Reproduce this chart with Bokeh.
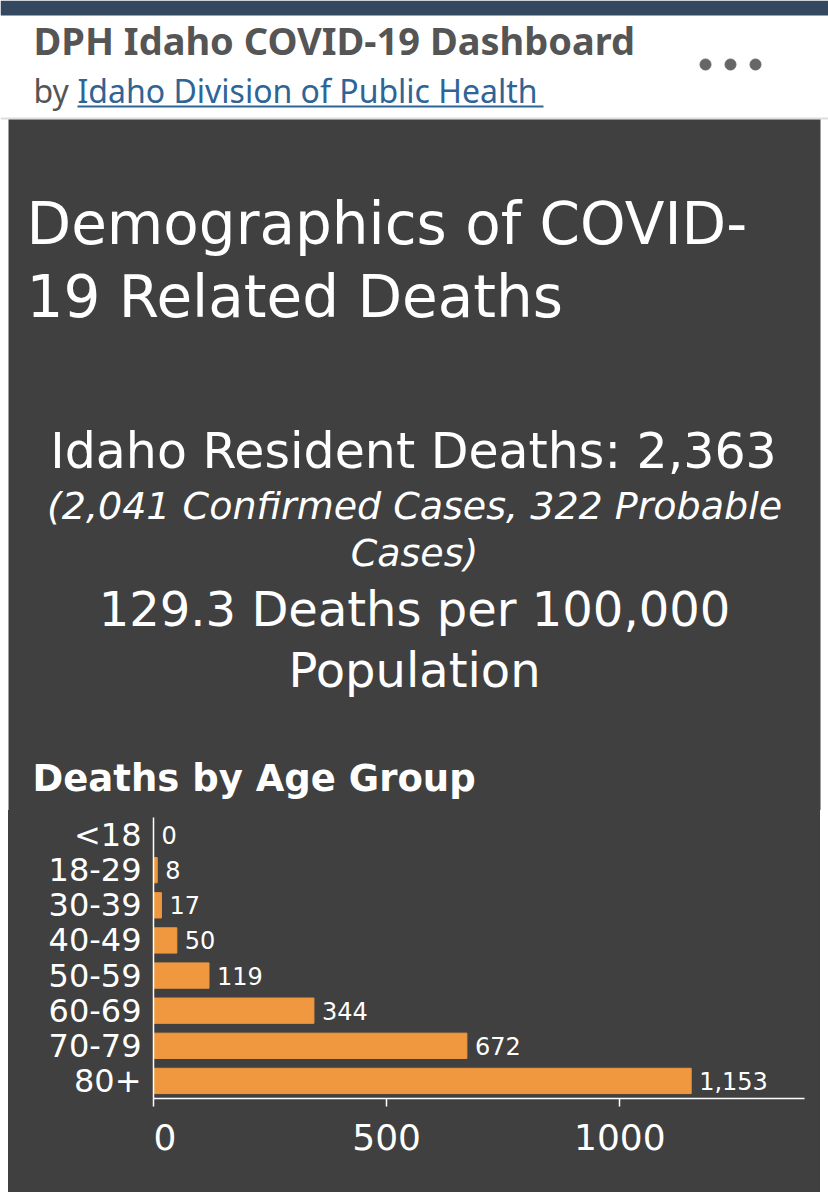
from bokeh.core.properties import value
from bokeh.embed import file_html
from bokeh.models import ColumnDataSource, FactorRange, Range1d
from bokeh.plotting import figure
from bokeh.resources import INLINE

age_groups = ["<18", "18-29", "30-39", "40-49", "50-59", "60-69", "70-79", "80+"]
deaths = [0, 8, 17, 50, 119, 344, 672, 1153]
x_ticks = [0, 500, 1000]

header_title = "DPH Idaho COVID-19 Dashboard"
header_by = "by"
header_link = "Idaho Division of Public Health"
title_lines = ["Demographics of COVID-", "19 Related Deaths"]
resident_line = "Idaho Resident Deaths: 2,363"
case_lines = ["(2,041 Confirmed Cases, 322 Probable", "Cases)"]
rate_lines = ["129.3 Deaths per 100,000", "Population"]
chart_title = "Deaths by Age Group"

PANEL = "#404040"
BAR = "#F0983F"
FONT = "DejaVu Sans"
HEADER_FONT = "Noto Sans"

# top part of the page, ranges are simply page pixels
top = figure(width=828, height=810, x_range=Range1d(0, 828), y_range=Range1d(810, 0),
             x_axis_location=None, y_axis_location=None, toolbar_location=None,
             output_backend="svg", min_border=0, outline_line_color=None,
             background_fill_color="white", border_fill_color="white")
top.grid.visible = False
top.quad(left=0, right=828, top=0, bottom=15, fill_color="#34495F", line_color=None)
top.quad(left=0, right=828, top=117, bottom=119, fill_color="#DDDDDD", line_color=None)
top.quad(left=8, right=820, top=119, bottom=812, fill_color=PANEL, line_color=None)


def put(p, x, y, txt, size, color="white", align="left", style="normal", font=FONT):
    p.text(x=[x], y=[y], text=[txt], text_font=value(font), text_font_size=size,
           text_color=color, text_align=align, text_font_style=style, text_baseline="alphabetic")


put(top, 33, 39, header_title, "38px", "#555555", style="bold", font=HEADER_FONT)
put(top, 33, 90, header_by, "32px", "#555555", font=HEADER_FONT)
put(top, 77, 90, header_link, "32px", "#2F6496", font=HEADER_FONT)
top.segment(x0=77, x1=543, y0=106, y1=106, line_color="#2F6496", line_width=2)
top.scatter(x=[705, 730, 755], y=[64, 64, 64], size=11, color="#666666")

put(top, 26, 223, title_lines[0], "58px")
put(top, 26, 296, title_lines[1], "58px")
put(top, 413, 451, resident_line, "49px", align="center")
put(top, 414, 505, case_lines[0], "38px", align="center", style="italic")
put(top, 414, 552, case_lines[1], "38px", align="center", style="italic")
put(top, 414, 608, rate_lines[0], "48px", align="center")
put(top, 414, 669, rate_lines[1], "48px", align="center")
put(top, 32, 778, chart_title, "37px", style="bold")

source = ColumnDataSource(data=dict(age=age_groups, deaths=deaths,
                                    label=[f"{d:,}" for d in deaths]))

# css background as well, the svg fills leave pale seams between frame and border
p = figure(width=812, height=382, y_range=FactorRange(factors=age_groups[::-1]),
           x_range=Range1d(0, 1396), toolbar_location=None, output_backend="svg",
           min_border_left=145, min_border_right=16, min_border_top=7, min_border_bottom=94,
           background_fill_color=PANEL, border_fill_color=PANEL, margin=(0, 0, 0, 8),
           styles={"background-color": PANEL})
p.outline_line_color = None
p.grid.visible = False
p.hbar(y="age", right="deaths", left=0, height=0.72, source=source,
       fill_color=BAR, line_color=BAR, line_width=1)
p.text(x="deaths", y="age", text="label", source=source, x_offset=8, y_offset=0,
       text_font=value(FONT), text_font_size="24px", text_color="white", text_baseline="middle")

p.xaxis.ticker = x_ticks
# the zero label sits to the right of its tick
p.xaxis.major_label_overrides = {0: "\u00a0\u00a00"}
p.xaxis.axis_line_color = "white"
p.xaxis.axis_line_width = 1.5
p.xaxis.major_tick_line_color = "white"
p.xaxis.major_tick_line_width = 1.5
p.xaxis.major_tick_out = 8
p.xaxis.major_tick_in = 0
p.xaxis.minor_tick_line_color = None
p.xaxis.major_label_text_color = "white"
p.xaxis.major_label_text_font = FONT
p.xaxis.major_label_text_font_size = "36px"
p.xaxis.major_label_standoff = 10

p.yaxis.axis_line_color = "white"
p.yaxis.axis_line_width = 1.5
p.yaxis.major_tick_line_color = None
p.yaxis.minor_tick_line_color = None
p.yaxis.major_label_text_color = "white"
p.yaxis.major_label_text_font = FONT
p.yaxis.major_label_text_font_size = "32px"
p.yaxis.major_label_standoff = 6

open("out.html", "w").write(file_html([top, p], INLINE))
